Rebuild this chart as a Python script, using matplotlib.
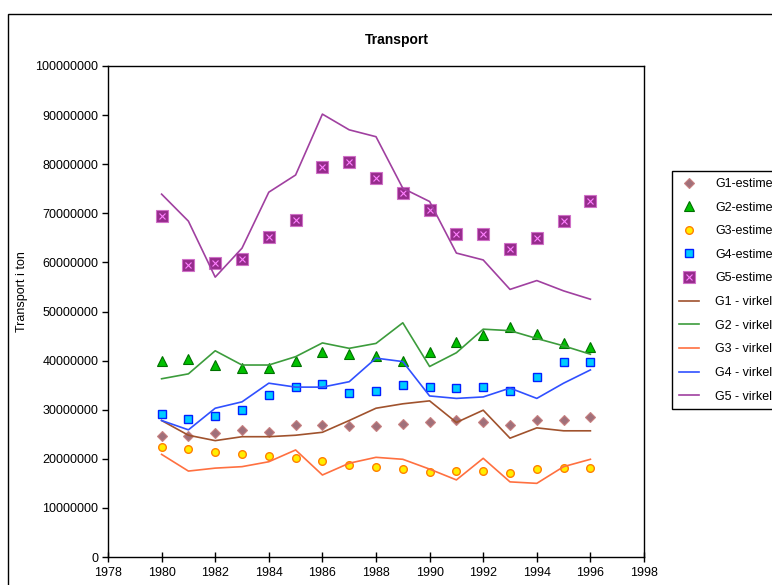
"""Transport: estimated vs actual per group, 1980-1996"""
import matplotlib
matplotlib.use('Agg')
import matplotlib.pyplot as plt
from matplotlib.legend_handler import HandlerTuple
import numpy as np

plt.rcParams['font.family'] = ['Liberation Sans', 'DejaVu Sans']

years = list(range(1980, 1997))

# estimated values (markers)
g1_est = [24.6, 24.6, 25.2, 25.9, 25.5, 26.9, 26.9, 26.7, 26.7, 27.1, 27.4, 27.9, 27.4, 26.9, 28.0, 28.0, 28.6]
g2_est = [40.0, 40.3, 39.1, 38.4, 38.4, 40.0, 41.7, 41.3, 40.9, 40.0, 41.8, 43.8, 45.2, 46.9, 45.4, 43.6, 42.7]
g3_est = [22.5, 21.9, 21.4, 20.9, 20.6, 20.2, 19.6, 18.7, 18.4, 17.9, 17.4, 17.5, 17.5, 17.2, 17.9, 18.2, 18.2]
g4_est = [29.1, 28.1, 28.7, 29.9, 32.9, 34.7, 35.2, 33.3, 33.9, 35.0, 34.7, 34.5, 34.7, 33.9, 36.6, 39.7, 39.7]
g5_est = [69.5, 59.5, 59.8, 60.7, 65.1, 68.6, 79.4, 80.5, 77.2, 74.1, 70.6, 65.8, 65.8, 62.8, 65.0, 68.4, 72.5]

# actual values (lines)
g1_act = [27.8, 24.8, 23.7, 24.5, 24.5, 24.8, 25.4, 27.8, 30.3, 31.2, 31.8, 27.4, 29.9, 24.2, 26.3, 25.7, 25.7]
g2_act = [36.3, 37.3, 42.0, 39.1, 39.1, 40.8, 43.6, 42.5, 43.5, 47.7, 38.8, 41.6, 46.4, 46.1, 44.5, 43.0, 41.3]
g3_act = [20.9, 17.5, 18.1, 18.4, 19.4, 21.8, 16.7, 19.1, 20.3, 19.9, 17.9, 15.7, 20.1, 15.3, 15.0, 18.4, 19.9]
g4_act = [27.8, 25.9, 30.3, 31.6, 35.4, 34.6, 34.6, 35.7, 40.5, 39.8, 32.8, 32.3, 32.6, 34.4, 32.3, 35.4, 38.1]
g5_act = [73.9, 68.4, 57.0, 62.9, 74.3, 77.8, 90.2, 87.0, 85.6, 75.1, 72.4, 61.9, 60.5, 54.5, 56.3, 54.2, 52.5]

scale = 1e6
fs = 9

fig = plt.figure(figsize=(7.72, 5.85), dpi=100, facecolor='w')
ax = fig.add_axes([108/772, 1 - 557/585, 536/772, 491/585])

yr = np.array(years)
h_est = []
h_est.append(ax.plot(yr, np.array(g1_est)*scale, 'D', ms=5, mfc='#a0707a', mec='#c88080', mew=0.8, ls='none')[0])
h_est.append(ax.plot(yr, np.array(g2_est)*scale, '^', ms=6.5, mfc='#00c000', mec='#007000', mew=0.8, ls='none')[0])
h_est.append(ax.plot(yr, np.array(g3_est)*scale, 'o', ms=5.5, mfc='#ffee00', mec='#ff8000', mew=1.0, ls='none')[0])
h_est.append(ax.plot(yr, np.array(g4_est)*scale, 's', ms=5.5, mfc='#00ccff', mec='#0020ff', mew=1.0, ls='none')[0])
g5_sq = ax.plot(yr, np.array(g5_est)*scale, 's', ms=8, mfc='#962c8c', mec='#d070c8', mew=0.8, ls='none')[0]
g5_x = ax.plot(yr, np.array(g5_est)*scale, 'x', ms=4, mec='#ff80ff', mew=0.8, ls='none')[0]
h_est.append((g5_sq, g5_x))

h_act = []
h_act.append(ax.plot(yr, np.array(g1_act)*scale, '-', color='#a0522d', lw=1.2)[0])
h_act.append(ax.plot(yr, np.array(g2_act)*scale, '-', color='#3c9c3c', lw=1.2)[0])
h_act.append(ax.plot(yr, np.array(g3_act)*scale, '-', color='#ff7040', lw=1.2)[0])
h_act.append(ax.plot(yr, np.array(g4_act)*scale, '-', color='#3050ff', lw=1.2)[0])
h_act.append(ax.plot(yr, np.array(g5_act)*scale, '-', color='#a040a0', lw=1.2)[0])

ax.set_xlim(1978, 1998)
ax.set_ylim(0, 100e6)
ax.set_xticks(range(1978, 1999, 2))
ax.set_yticks(np.arange(0, 100e6 + 1, 10e6))
ax.set_yticklabels([str(int(v)) for v in np.arange(0, 100e6 + 1, 10e6)])

for s in ax.spines.values():
    s.set_linewidth(1.0)
ax.tick_params(axis='y', direction='out', length=4, width=1, labelsize=fs, pad=3)
ax.tick_params(axis='x', direction='inout', length=7, width=1, labelsize=fs, pad=4)

fig.text(397/772, 1 - 40/585, 'Transport', ha='center', va='center', fontsize=10, weight='bold')
fig.text(22/772, 1 - 292/585, 'Transport i ton', ha='center', va='center', fontsize=fs, rotation=90)

labels = ['G1-estimert', 'G2-estimert', 'G3-estimert', 'G4-estimert', 'G5-estimert',
          'G1 - virkelig', 'G2 - virkelig', 'G3 - virkelig', 'G4 - virkelig', 'G5 - virkelig']
leg = fig.legend(h_est + h_act, labels, loc='upper left',
                 bbox_to_anchor=(672/772, 1 - 171/585), borderaxespad=0, fontsize=fs,
                 frameon=True, fancybox=False, edgecolor='k', framealpha=1,
                 handlelength=1.6, labelspacing=0.93, borderpad=0.55, handletextpad=1.3,
                 handler_map={tuple: HandlerTuple(ndivide=1)})
leg.get_frame().set_linewidth(1.0)

# outer chart border
fig.patches.append(plt.Rectangle((8/772, -0.1), 1.0, 1 - 14/585 + 0.1, transform=fig.transFigure,
                                 fill=False, edgecolor='k', lw=1.0))

fig.savefig('out.png', dpi=100, facecolor=fig.get_facecolor())
